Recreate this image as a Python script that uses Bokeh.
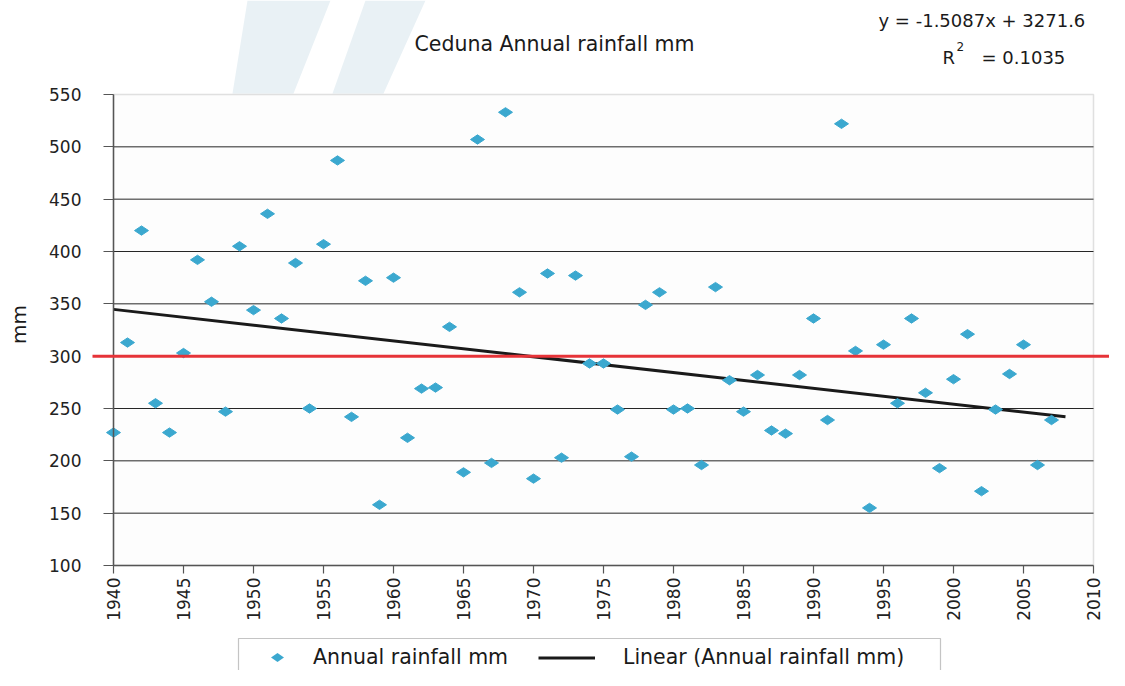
import math
from bokeh.plotting import figure
from bokeh.models import (Range1d, FixedTicker, Label, BoxAnnotation, PolyAnnotation,
                          Legend, LegendItem)
from bokeh.embed import file_html
from bokeh.resources import INLINE

# ---------------- data ----------------
years = list(range(1940, 2008))
rainfall = [227, 313, 420, 255, 227, 303, 392, 352, 247, 405,
            344, 436, 336, 389, 250, 407, 487, 242, 372, 158,
            375, 222, 269, 270, 328, 189, 507, 198, 533, 361,
            183, 379, 203, 377, 293, 293, 249, 204, 349, 361,
            249, 250, 196, 366, 277, 247, 282, 229, 226, 282,
            336, 239, 522, 305, 155, 311, 255, 336, 265, 193,
            278, 321, 171, 249, 283, 311, 196, 239]
trend_years = [1940, 2008]
trend_values = [344.7, 242.1]
reference_level = 300
y_ticks = [100, 150, 200, 250, 300, 350, 400, 450, 500, 550]
x_ticks = [1940, 1945, 1950, 1955, 1960, 1965, 1970, 1975, 1980, 1985, 1990, 1995, 2000, 2005, 2010]
title_text = "Ceduna Annual rainfall mm"
eq_text = "y = -1.5087x + 3271.6"
r2_text = "= 0.1035"
y_label = "mm"
legend_labels = ["Annual rainfall mm", "Linear (Annual rainfall mm)"]

# ---------------- layout (pixels) ----------------
W, H = 1109, 670
AREA_L, AREA_R, AREA_T, AREA_B = 113, 1093, 94, 565   # plot area in canvas pixels
FONT = "DejaVu Sans"
POINT_COLOR = "#3ba8cf"

x0, x1 = x_ticks[0], x_ticks[-1]
y0, y1 = y_ticks[0], y_ticks[-1]
kx = (AREA_R - AREA_L) / (x1 - x0)
ky = (AREA_B - AREA_T) / (y1 - y0)
x_range = Range1d(x0 - AREA_L / kx, x1 + (W - AREA_R) / kx)
y_range = Range1d(y0 - (H - AREA_B) / ky, y1 + AREA_T / ky)


def sy(py):
    """canvas y (from top) -> screen units of the frame (from bottom)"""
    return H - py


p = figure(width=W, height=H, output_backend="svg", toolbar_location=None,
           x_range=x_range, y_range=y_range, title_location=None,
           min_border=0, min_border_left=0, min_border_right=0,
           min_border_top=0, min_border_bottom=0)
p.background_fill_color = "white"
p.border_fill_color = "white"
p.outline_line_color = None
p.xgrid.visible = False
p.ygrid.visible = False

# watermark shapes
for xs in ([247, 330, 293, 232], [365, 425, 383, 332]):
    p.add_layout(PolyAnnotation(xs=xs, ys=[sy(0), sy(0), sy(93), sy(93)],
                                xs_units="screen", ys_units="screen",
                                fill_color="#e9f1f5", fill_alpha=1, line_alpha=0, level="underlay"))

# plot area
p.add_layout(BoxAnnotation(left=x0, right=x1, bottom=y0, top=y1,
                           fill_color="#fdfdfd", fill_alpha=1,
                           line_color="#9c9c9c", line_width=1.5, level="underlay"))

# horizontal gridlines
grid_vals = y_ticks[1:-1]
p.segment(x0=[x0] * len(grid_vals), x1=[x1] * len(grid_vals), y0=grid_vals, y1=grid_vals,
          line_color="#262626", line_width=1)

# axes placed at the plot-area edges
p.xaxis.fixed_location = y0
p.xaxis.bounds = (x0, x1)
p.yaxis.fixed_location = x0
p.yaxis.bounds = (y0, y1)
p.yaxis.ticker = FixedTicker(ticks=y_ticks)
p.xaxis.ticker = FixedTicker(ticks=x_ticks)
for ax in (p.xaxis[0], p.yaxis[0]):
    ax.axis_line_color = "#555555"
    ax.axis_line_width = 1.5
    ax.major_tick_line_color = "#555555"
    ax.major_tick_line_width = 1.2
    ax.major_tick_in = 0
    ax.minor_tick_line_color = None
    ax.major_label_text_font = FONT
    ax.major_label_text_font_size = "17px"
    ax.major_label_text_color = "#222222"
p.yaxis.major_tick_out = 10
p.yaxis.major_label_standoff = 22
p.xaxis.major_tick_out = 8
p.xaxis.major_label_standoff = 4
p.xaxis.major_label_orientation = math.pi / 2

# glyphs
trend = p.line(trend_years, trend_values, line_width=3, line_color="#1a1a1a")
pts = p.scatter(years, rainfall, marker="diamond", size=14, angle=math.pi / 2,
                fill_color=POINT_COLOR, line_color=POINT_COLOR)

# red reference line (extends a little past the plot area)
p.add_layout(BoxAnnotation(left=92, right=1119, left_units="screen", right_units="screen",
                           top=reference_level + 1.45, bottom=reference_level - 1.45,
                           fill_color="#e63338", fill_alpha=1, line_alpha=0))

# texts
def label(x, y, text, size, align="left", angle=0.0):
    p.add_layout(Label(x=x, y=y, x_units="screen", y_units="screen", text=text, angle=angle,
                       text_font=FONT, text_font_size=size, text_color="#1a1a1a",
                       text_align=align, text_baseline="middle"))

label(554, sy(43), title_text, "20.5px", "center")
label(878, sy(20), eq_text, "18px")
label(942, sy(57), "R", "18px")
label(956, sy(46), "2", "12px")
label(981, sy(57), r2_text, "18px")
label(18, sy(324), y_label, "20px", "center", math.pi / 2)

# legend box + two legends
p.add_layout(BoxAnnotation(left=238, right=940, top=sy(638), bottom=sy(700),
                           left_units="screen", right_units="screen",
                           top_units="screen", bottom_units="screen",
                           fill_color="white", fill_alpha=1, line_color="#3a3a3a", line_width=1.2))

item_cy = 657
gh = 33
# wide legend diamond (the legend's own glyph ignores the marker angle)
dcx = 277
p.add_layout(PolyAnnotation(xs=[dcx - 6.5, dcx, dcx + 6.5, dcx],
                            ys=[sy(item_cy), sy(item_cy - 4.5), sy(item_cy), sy(item_cy + 4.5)],
                            xs_units="screen", ys_units="screen",
                            fill_color=POINT_COLOR, fill_alpha=1, line_alpha=0))

common = dict(orientation="horizontal", glyph_height=gh, label_height=gh, padding=0, margin=0,
              border_line_alpha=0, background_fill_alpha=0, label_text_font=FONT,
              label_text_font_size="20.5px", label_text_color="#1a1a1a")
leg1 = Legend(items=[LegendItem(label=legend_labels[0], renderers=[pts])],
              location=(294, sy(item_cy + gh / 2)), glyph_width=0, label_standoff=19, **common)
leg2 = Legend(items=[LegendItem(label=legend_labels[1], renderers=[trend])],
              location=(538, sy(item_cy + gh / 2)), glyph_width=57, label_standoff=28, **common)
p.add_layout(leg1)
p.add_layout(leg2)

open("out.html", "w").write(file_html(p, INLINE))
